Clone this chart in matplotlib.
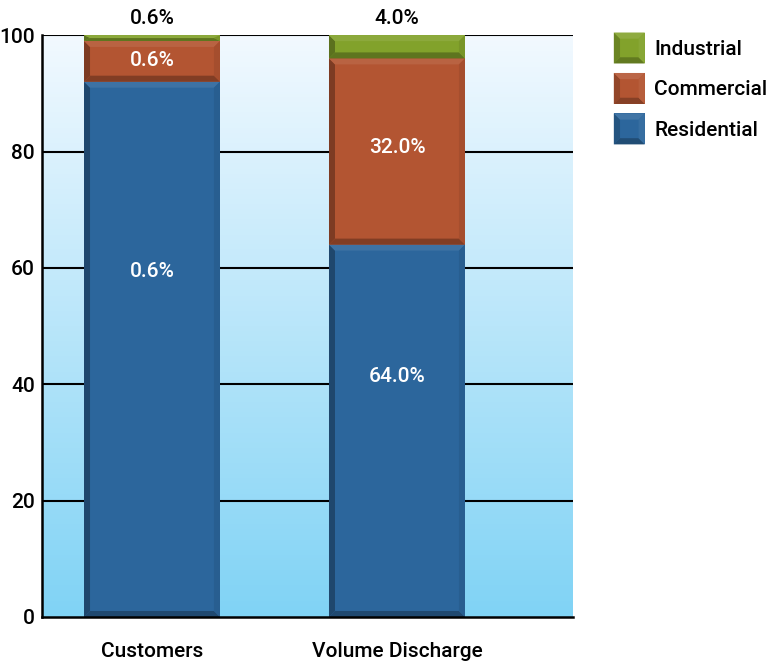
import numpy as np
import matplotlib
matplotlib.use("Agg")
import matplotlib.pyplot as plt
from matplotlib.patches import Polygon, Patch
from matplotlib.legend_handler import HandlerBase
import matplotlib.colors as mcolors

plt.rcParams['font.family'] = ['Roboto', 'DejaVu Sans']
plt.rcParams['font.weight'] = 'medium'

categories = ["Customers", "Volume Discharge"]
series_names = ["Residential", "Commercial", "Industrial"]
residential = [92, 64]
commercial = [7, 32]
industrial = [1, 4]
residential_labels = ["0.6%", "64.0%"]
commercial_labels = ["0.6%", "32.0%"]
industrial_labels = ["0.6%", "4.0%"]
yticks = [0, 20, 40, 60, 80, 100]

colors = {"Residential": "#2c669c", "Commercial": "#b35532", "Industrial": "#82a22b"}

fig = plt.figure(figsize=(7.71, 6.63), dpi=100)
ax = fig.add_axes([0.0545, 0.0694, 0.6885, 0.8776])
xlim = (-0.449, 1.718)
ax.set_xlim(*xlim)
ax.set_ylim(0, 100)

# background gradient
top_c = np.array(mcolors.to_rgb("#f2f9ff"))
bot_c = np.array(mcolors.to_rgb("#80d3f5"))
t = np.linspace(0, 1, 256)[:, None]
grad = (top_c * (1 - t) + bot_c * t)[:, None, :]
ax.imshow(grad, extent=[xlim[0], xlim[1], 0, 100], aspect='auto', origin='upper', zorder=0)

for yv in yticks[1:]:
    ax.axhline(yv, color='black', lw=1.5, zorder=1)

x = np.arange(len(categories))
width = 0.555

def shade(c, f):
    r = np.array(mcolors.to_rgb(c))
    if f < 1:
        return tuple(r * f)
    return tuple(r + (1 - r) * (f - 1))

# pixel-per-unit conversions for bevel size
ppx = 245.0
ppy = 5.82
bev = 6.0

def draw_bevel(ax, x0, y0, x1, y1, c):
    dx = bev / ppx
    dy = min(bev / ppy, (y1 - y0) / 2.0)
    polys = [
        ([(x0, y0), (x0 + dx, y0 + dy), (x0 + dx, y1 - dy), (x0, y1)], shade(c, 0.7)),
        ([(x0, y0), (x1, y0), (x1 - dx, y0 + dy), (x0 + dx, y0 + dy)], shade(c, 0.72)),
        ([(x0, y1), (x0 + dx, y1 - dy), (x1 - dx, y1 - dy), (x1, y1)], shade(c, 1.08)),
        ([(x1, y0), (x1, y1), (x1 - dx, y1 - dy), (x1 - dx, y0 + dy)], shade(c, 0.92)),
    ]
    for pts, col in polys:
        ax.add_patch(Polygon(pts, closed=True, facecolor=col, edgecolor='none', zorder=3))

bottoms = np.zeros(len(categories))
stack = [("Residential", residential), ("Commercial", commercial), ("Industrial", industrial)]
bar_rects = {}
for name, vals in stack:
    bars = ax.bar(x, vals, width, bottom=bottoms, color=colors[name], edgecolor='none', zorder=2)
    bar_rects[name] = bars
    for b in bars:
        draw_bevel(ax, b.get_x(), b.get_y(), b.get_x() + b.get_width(), b.get_y() + b.get_height(), colors[name])
    bottoms = bottoms + np.array(vals)

# value labels
for b, lab in zip(bar_rects["Residential"], residential_labels):
    ax.text(b.get_x() + b.get_width() / 2, b.get_y() + b.get_height() * 0.645, lab,
            ha='center', va='center', color='white', fontsize=15, zorder=5)
for b, lab in zip(bar_rects["Commercial"], commercial_labels):
    ax.text(b.get_x() + b.get_width() / 2, b.get_y() + b.get_height() * 0.52, lab,
            ha='center', va='center', color='white', fontsize=15, zorder=5)
for b, lab in zip(bar_rects["Industrial"], industrial_labels):
    ax.text(b.get_x() + b.get_width() / 2, 102.9, lab,
            ha='center', va='center', color='black', fontsize=15, zorder=5, clip_on=False)

ax.set_xticks(x)
ax.set_xticklabels(categories, fontsize=15)
ax.set_yticks(yticks)
ax.set_yticklabels([str(v) for v in yticks], fontsize=15)
ax.tick_params(axis='x', length=0, pad=18)
ax.tick_params(axis='y', length=0, pad=5)
for s in ['top', 'right']:
    ax.spines[s].set_visible(False)
ax.spines['left'].set_linewidth(1.8)
ax.spines['bottom'].set_linewidth(1.8)
ax.spines['left'].set_zorder(4)
ax.spines['bottom'].set_zorder(4)

class BevelHandler(HandlerBase):
    def create_artists(self, legend, orig_handle, xdescent, ydescent, width, height, fontsize, trans):
        c = orig_handle.get_facecolor()
        s = height * 1.45
        x0 = xdescent + (width - s) / 2
        y0 = -ydescent + (height - s) / 2
        x1, y1 = x0 + s, y0 + s
        d = s * 0.2
        arts = [Polygon([(x0, y0), (x1, y0), (x1, y1), (x0, y1)], facecolor=c, edgecolor='none')]
        polys = [
            ([(x0, y0), (x0 + d, y0 + d), (x0 + d, y1 - d), (x0, y1)], shade(c, 0.82)),
            ([(x0, y0), (x1, y0), (x1 - d, y0 + d), (x0 + d, y0 + d)], shade(c, 0.75)),
            ([(x0, y1), (x0 + d, y1 - d), (x1 - d, y1 - d), (x1, y1)], shade(c, 1.1)),
            ([(x1, y0), (x1, y1), (x1 - d, y1 - d), (x1 - d, y0 + d)], shade(c, 1.05)),
        ]
        for pts, col in polys:
            arts.append(Polygon(pts, facecolor=col, edgecolor='none'))
        for a in arts:
            a.set_transform(trans)
        return arts

handles = [Patch(facecolor=colors[n], label=n) for n in ["Industrial", "Commercial", "Residential"]]
leg = fig.legend(handles=handles, loc='upper left', bbox_to_anchor=(0.773, 0.972),
                 frameon=False, fontsize=15, handler_map={Patch: BevelHandler()},
                 handlelength=1.4, handleheight=1.2, labelspacing=0.9, handletextpad=0.5)

fig.savefig("out.png", dpi=100)
